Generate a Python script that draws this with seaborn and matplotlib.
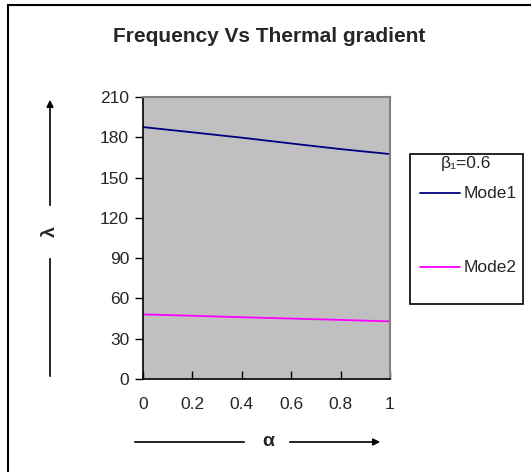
import matplotlib
matplotlib.use("Agg")
import matplotlib.pyplot as plt
import seaborn as sns
import pandas as pd
from matplotlib.patches import Rectangle
from matplotlib.lines import Line2D

alpha_vals = [0, 0.2, 0.4, 0.6, 0.8, 1.0]
mode1 = [187.6, 183.7, 179.7, 175.4, 171.2, 167.5]
mode2 = [48.1, 47.1, 46.0, 45.0, 44.0, 42.9]
series_names = ["Mode1", "Mode2"]
x_ticks = [0, 0.2, 0.4, 0.6, 0.8, 1]
x_tick_labels = ["0", "0.2", "0.4", "0.6", "0.8", "1"]
y_ticks = [0, 30, 60, 90, 120, 150, 180, 210]
title = "Frequency Vs Thermal gradient"
legend_title = "β₁=0.6"
colors = ["#000080", "#FF00FF"]

sns.set_theme(style="white")
plt.rcParams['font.family'] = ['Liberation Sans', 'DejaVu Sans']

W, H = 531, 472
fig = plt.figure(figsize=(W / 100, H / 100), dpi=100)
fig.patch.set_facecolor("white")


def px(x, y):
    return x / W, 1 - y / H


# outer border (right and bottom cut off in reference)
fig.add_artist(Rectangle((8 / W, -0.2), 1.5, 1 - 5 / H + 0.2, transform=fig.transFigure,
                         fill=False, edgecolor="black", linewidth=1.5, zorder=0.5))

ax = fig.add_axes([143 / W, (H - 379) / H, 247 / W, 282 / H])
ax.set_facecolor("#C0C0C0")

df = pd.DataFrame({
    "alpha": alpha_vals * 2,
    "lam": mode1 + mode2,
    "mode": [series_names[0]] * len(alpha_vals) + [series_names[1]] * len(alpha_vals),
})
sns.lineplot(data=df, x="alpha", y="lam", hue="mode", palette=colors,
             linewidth=1.3, ax=ax, legend=False)

ax.set_xlim(0, 1)
ax.set_ylim(0, 210)
ax.set_xticks(x_ticks)
ax.set_xticklabels(x_tick_labels)
ax.set_yticks(y_ticks)
ax.set_xlabel("")
ax.set_ylabel("")
ax.tick_params(axis="x", direction="in", length=6, width=1, color="black", pad=13,
               labelsize=12.5, bottom=True)
ax.tick_params(axis="y", direction="out", length=6, width=1, color="black", pad=4,
               labelsize=12.5, left=True)
for s in ["top", "right"]:
    ax.spines[s].set_color("#808080")
    ax.spines[s].set_linewidth(1.5)
for s in ["left", "bottom"]:
    ax.spines[s].set_color("black")
    ax.spines[s].set_linewidth(1.2)

fig.text(*px(269, 36), title, ha="center", va="center", fontsize=15,
         fontweight="bold")

# legend box
fig.add_artist(Rectangle((410 / W, (H - 304) / H), 113 / W, 150 / H, transform=fig.transFigure,
                         fill=True, facecolor="white", edgecolor="black", linewidth=1.2,
                         zorder=1))
fig.text(*px(466, 163), legend_title, ha="center", va="center", fontsize=12.5, zorder=3)
for name, col, yy in zip(series_names, colors, [193, 267]):
    x0, y0 = px(420, yy)
    x1, _ = px(460, yy)
    fig.add_artist(Line2D([x0, x1], [y0, y0], transform=fig.transFigure, color=col,
                          lw=1.3, zorder=3))
    fig.text(*px(464, yy), name, ha="left", va="center", fontsize=12.5, zorder=3)

# y-axis label with arrow
ax.annotate("", xy=(50, H - 256), xytext=(50, H - 379), xycoords="figure pixels",
            textcoords="figure pixels", arrowprops=dict(arrowstyle="-", color="black", lw=1.2))
ax.annotate("", xy=(50, H - 97), xytext=(50, H - 208), xycoords="figure pixels",
            textcoords="figure pixels",
            arrowprops=dict(arrowstyle="-|>", color="black", lw=1.2, mutation_scale=10))
fig.text(*px(50, 232), "λ", rotation=90, ha="center", va="center", fontsize=14,
         fontweight="bold")

# x-axis label with arrow
ax.annotate("", xy=(247, H - 442), xytext=(132, H - 442), xycoords="figure pixels",
            textcoords="figure pixels", arrowprops=dict(arrowstyle="-", color="black", lw=1.2))
ax.annotate("", xy=(383, H - 442), xytext=(287, H - 442), xycoords="figure pixels",
            textcoords="figure pixels",
            arrowprops=dict(arrowstyle="-|>", color="black", lw=1.2, mutation_scale=10))
fig.text(*px(268, 442), "α", ha="center", va="center", fontsize=14, fontweight="bold")

fig.savefig("out.png", dpi=100)
